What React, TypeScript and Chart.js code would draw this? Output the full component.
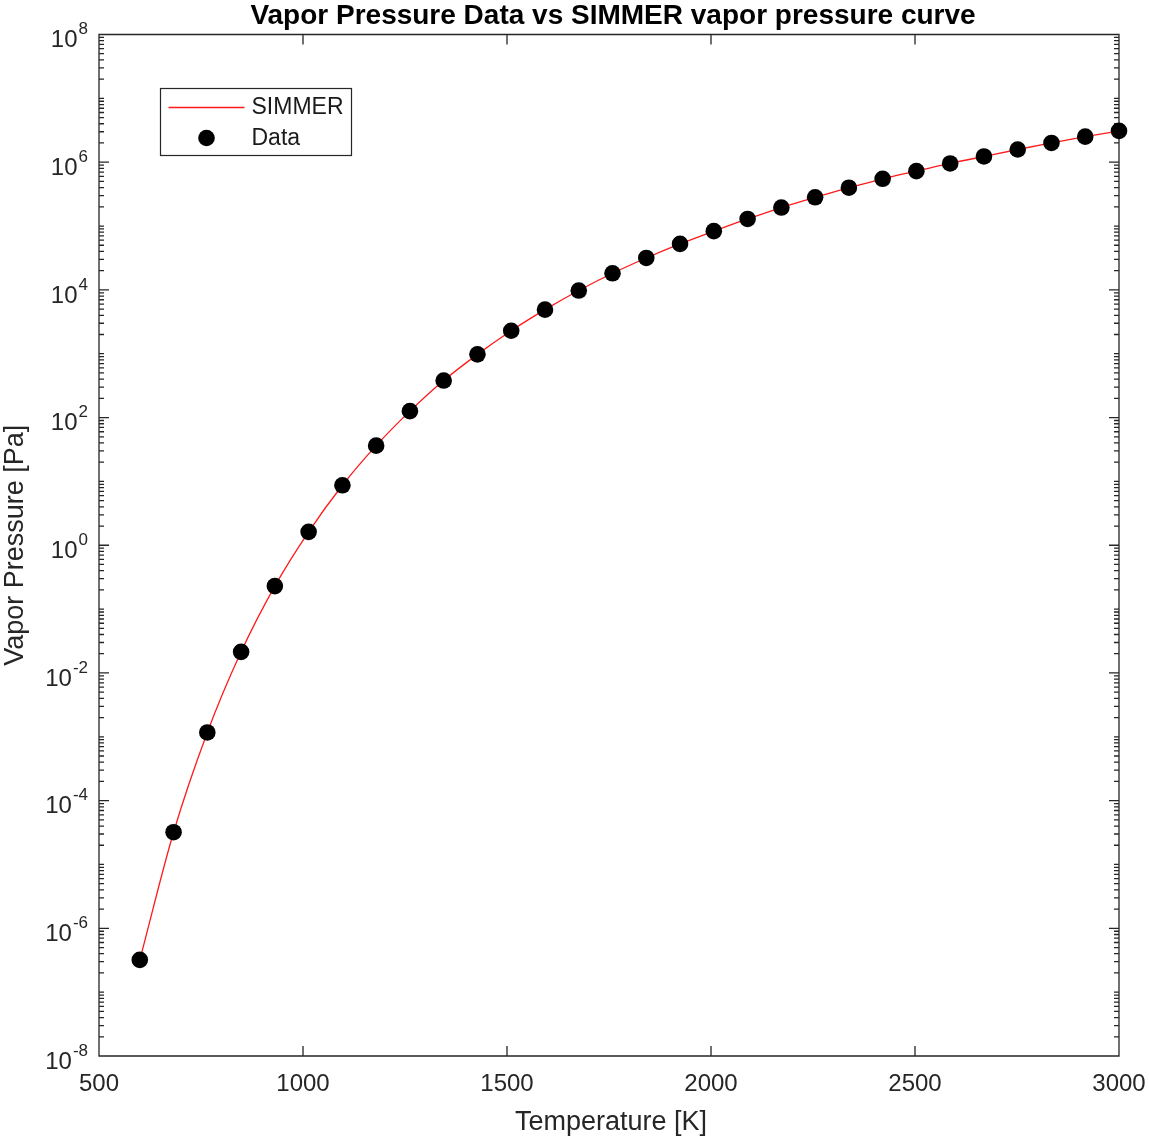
import { useEffect, useRef } from "react";
import { Chart, registerables } from "chart.js";

Chart.register(...registerables);

// ---- data ----
const temperatures = [
  600, 682.8, 765.5, 848.3, 931.0, 1013.8, 1096.6, 1179.3, 1262.1, 1344.8,
  1427.6, 1510.3, 1593.1, 1675.9, 1758.6, 1841.4, 1924.1, 2006.9, 2089.7, 2172.4,
  2255.2, 2337.9, 2420.7, 2503.4, 2586.2, 2669.0, 2751.7, 2834.5, 2917.2, 3000,
];
const dataPressure = [
  3.2e-7, 3.2e-5, 1.17e-3, 0.0214, 0.229, 1.62, 8.7, 36.3, 126, 380,
  977, 2290, 4900, 9770, 18200, 31600, 52500, 83200, 1.29e5, 1.95e5,
  2.82e5, 3.98e5, 5.5e5, 7.24e5, 9.55e5, 1.23e6, 1.58e6, 2.0e6, 2.51e6, 3.09e6,
];
const simmerPressure = [
  3.2e-7, 3.2e-5, 1.17e-3, 0.0214, 0.229, 1.62, 8.7, 36.3, 126, 380,
  977, 2290, 4900, 9770, 18200, 31600, 52500, 83200, 1.29e5, 1.95e5,
  2.82e5, 3.98e5, 5.5e5, 7.24e5, 9.55e5, 1.23e6, 1.58e6, 2.0e6, 2.51e6, 3.09e6,
];
const xTickValues = [500, 1000, 1500, 2000, 2500, 3000];
const yTickExponents = [-8, -6, -4, -2, 0, 2, 4, 6, 8];
const titleText = "Vapor Pressure Data vs SIMMER vapor pressure curve";
const xTitle = "Temperature [K]";
const yTitle = "Vapor Pressure [Pa]";
const seriesNames = ["SIMMER", "Data"];

const FONT = '"Liberation Sans", Arial, Helvetica, sans-serif';
const AXIS = "#262626";
const RED = "#ff1a1a";

const matlabPlugin = {
  id: "matlabAxes",
  beforeDatasetsDraw(chart: any) {
    const { ctx, chartArea: a, scales } = chart;
    const xs = scales.x;
    const ys = scales.y;
    ctx.save();
    ctx.strokeStyle = AXIS;
    ctx.lineWidth = 1.3;
    ctx.beginPath();
    ctx.rect(a.left, a.top, a.right - a.left, a.bottom - a.top);
    // x ticks (bottom & top, inward)
    for (const v of xTickValues) {
      const px = xs.getPixelForValue(v);
      ctx.moveTo(px, a.bottom);
      ctx.lineTo(px, a.bottom - 10);
      ctx.moveTo(px, a.top);
      ctx.lineTo(px, a.top + 10);
    }
    // y ticks (left & right, inward), major every 2 decades, minor 2..9
    const minE = yTickExponents[0];
    const maxE = yTickExponents[yTickExponents.length - 1];
    for (let e = minE; e <= maxE; e++) {
      for (let m = 1; m <= 9; m++) {
        if (e === maxE && m > 1) break;
        const py = ys.getPixelForValue(m * Math.pow(10, e));
        const major = m === 1 && yTickExponents.includes(e);
        const len = major ? 10 : 5;
        ctx.moveTo(a.left, py);
        ctx.lineTo(a.left + len, py);
        ctx.moveTo(a.right, py);
        ctx.lineTo(a.right - len, py);
      }
    }
    ctx.stroke();
    ctx.restore();
  },
  afterDraw(chart: any) {
    const { ctx, chartArea: a, scales } = chart;
    const xs = scales.x;
    const ys = scales.y;
    ctx.save();
    // x tick labels
    ctx.fillStyle = AXIS;
    ctx.font = `24px ${FONT}`;
    ctx.textAlign = "center";
    ctx.textBaseline = "middle";
    for (const v of xTickValues) {
      ctx.fillText(String(v), xs.getPixelForValue(v), a.bottom + 28);
    }
    // y tick labels 10^e
    for (const e of yTickExponents) {
      const py = ys.getPixelForValue(Math.pow(10, e));
      const exp = e < 0 ? "-" + Math.abs(e) : String(e);
      ctx.font = `17px ${FONT}`;
      ctx.textAlign = "right";
      ctx.textBaseline = "middle";
      const ew = ctx.measureText(exp).width;
      const right = a.left - 11;
      ctx.fillText(exp, right, py - 5);
      ctx.font = `24px ${FONT}`;
      ctx.fillText("10", right - ew - 1, py + 6);
    }
    // axis titles
    ctx.font = `27px ${FONT}`;
    ctx.textAlign = "center";
    ctx.textBaseline = "alphabetic";
    ctx.fillText(xTitle, (a.left + a.right) / 2 + 2, 1129.5);
    ctx.save();
    ctx.translate(23, (a.top + a.bottom) / 2);
    ctx.rotate(-Math.PI / 2);
    ctx.fillText(yTitle, 0, 0);
    ctx.restore();
    // title
    ctx.fillStyle = "#000";
    ctx.font = `bold 28px ${FONT}`;
    ctx.fillText(titleText, (a.left + a.right) / 2 + 4, 23.5);
    // legend
    const lx = 160.5, ly = 88.5, lw = 191, lh = 67;
    ctx.fillStyle = "#fff";
    ctx.fillRect(lx, ly, lw, lh);
    ctx.strokeStyle = AXIS;
    ctx.lineWidth = 1.2;
    ctx.strokeRect(lx, ly, lw, lh);
    ctx.strokeStyle = RED;
    ctx.lineWidth = 1.3;
    ctx.beginPath();
    ctx.moveTo(lx + 8, ly + 19);
    ctx.lineTo(lx + 84, ly + 19);
    ctx.stroke();
    ctx.fillStyle = "#000";
    ctx.beginPath();
    ctx.arc(lx + 46, ly + 49.5, 8.3, 0, Math.PI * 2);
    ctx.fill();
    ctx.fillStyle = "#1a1a1a";
    ctx.font = `23px ${FONT}`;
    ctx.textAlign = "left";
    ctx.textBaseline = "middle";
    ctx.fillText(seriesNames[0], lx + 91, ly + 19);
    ctx.fillText(seriesNames[1], lx + 91, ly + 50);
    ctx.restore();
  },
};

export default function App() {
  const canvasRef = useRef<HTMLCanvasElement | null>(null);

  useEffect(() => {
    document.body.style.margin = "0";
    const canvas = canvasRef.current;
    if (!canvas) return;
    const chart = new Chart(canvas, {
      type: "line",
      data: {
        datasets: [
          {
            label: seriesNames[1],
            data: temperatures.map((t, i) => ({ x: t, y: dataPressure[i] })),
            showLine: false,
            pointRadius: 8.3,
            pointHoverRadius: 8.3,
            pointBackgroundColor: "#000",
            pointBorderWidth: 0,
            borderColor: "#000",
            clip: false,
          },
          {
            label: seriesNames[0],
            data: temperatures.map((t, i) => ({ x: t, y: simmerPressure[i] })),
            borderColor: RED,
            borderWidth: 1.3,
            pointRadius: 0,
            cubicInterpolationMode: "monotone",
            fill: false,
            clip: false,
          },
        ],
      },
      options: {
        animation: false,
        responsive: true,
        maintainAspectRatio: false,
        events: [],
        layout: { padding: { top: 34.5, right: 31, left: 0, bottom: 0 } },
        plugins: {
          legend: { display: false },
          title: { display: false },
          tooltip: { enabled: false },
        },
        scales: {
          x: {
            type: "linear",
            min: 500,
            max: 3000,
            ticks: { display: false },
            grid: { display: false },
            border: { display: false },
            afterBuildTicks: (s: any) => {
              s.ticks = xTickValues.map((v) => ({ value: v }));
            },
            afterFit: (s: any) => {
              s.height = 85;
            },
          },
          y: {
            type: "logarithmic",
            min: 1e-8,
            max: 1e8,
            ticks: { display: false },
            grid: { display: false },
            border: { display: false },
            afterFit: (s: any) => {
              s.width = 99;
            },
          },
        },
      } as any,
      plugins: [matlabPlugin],
    });
    return () => chart.destroy();
  }, []);

  return (
    <div style={{ position: "absolute", left: 0, top: 0, width: 1150, height: 1141, background: "#fff" }}>
      <canvas ref={canvasRef} />
    </div>
  );
}
